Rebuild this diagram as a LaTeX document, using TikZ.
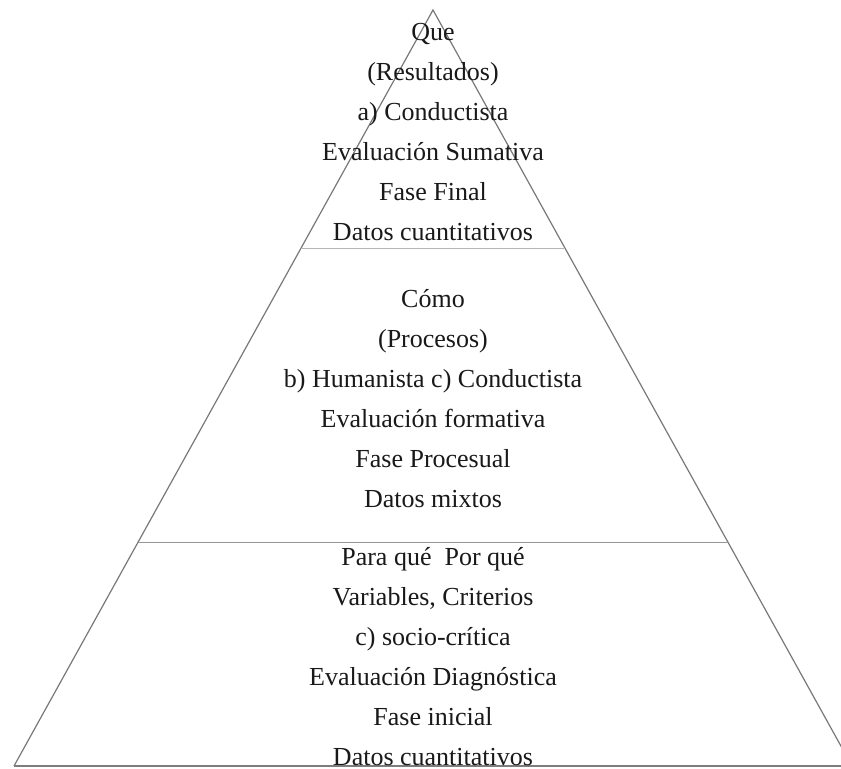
\documentclass[tikz,border=0pt]{standalone}
\usepackage{fontspec}
\setmainfont{Liberation Serif}
\usetikzlibrary{calc}
\definecolor{EdgeGray}{RGB}{120,120,120}
\definecolor{RuleGray}{RGB}{150,150,150}
\definecolor{BaseGray}{RGB}{125,125,125}

\begin{document}
\begin{tikzpicture}[
        x=0.75pt,y=-0.75pt,
        level/.style={text=black!90,font=\fontsize{19.5}{24}\selectfont,
                      inner sep=0pt,text height=13pt,text depth=0pt},
        side/.style={draw=EdgeGray,line width=0.9pt},
        divider/.style={draw=RuleGray,line width=0.8pt}
      ]
        \useasboundingbox (0,0) rectangle (841,768);
        \coordinate (apex) at (433,10);
        \coordinate (bl) at (14,766);
        \coordinate (br) at (852,766);
        % pyramid edges
        \draw[side] (bl)--(apex)--(br);
        \begin{scope}
          \clip (0,0) rectangle (841,768);
          \draw[draw=BaseGray,line width=1.8pt] (bl)--(br);
        \end{scope}
        % dividers between levels
        \coordinate (ul) at ($(apex)!0.316!(bl)$);
        \coordinate (ur) at ($(apex)!0.316!(br)$);
        \coordinate (ml) at ($(apex)!0.704!(bl)$);
        \coordinate (mr) at ($(apex)!0.704!(br)$);
        \draw[divider,draw=RuleGray!70] (ul)--(ur);
        \draw[divider] (ml)--(mr);
        % texts of the levels
        \foreach \txt [count=\i from 0] in {Que,(Resultados),a) Conductista,
            Evaluación Sumativa,Fase Final,Datos cuantitativos}
          \node[level] (top\i) at (433,32+40*\i) {\txt};
        \foreach \txt [count=\i from 0] in {Cómo,(Procesos),
            b) Humanista c) Conductista,Evaluación formativa,
            Fase Procesual,Datos mixtos}
          \node[level] (mid\i) at (433,299+40*\i) {\txt};
        \foreach \txt [count=\i from 0] in {Para qué~ Por qué,
            {Variables, Criterios},c) socio-crítica,Evaluación Diagnóstica,
            Fase inicial,Datos cuantitativos}
          \node[level] (low\i) at (433,557+40*\i) {\txt};
      \end{tikzpicture}
\end{document}
